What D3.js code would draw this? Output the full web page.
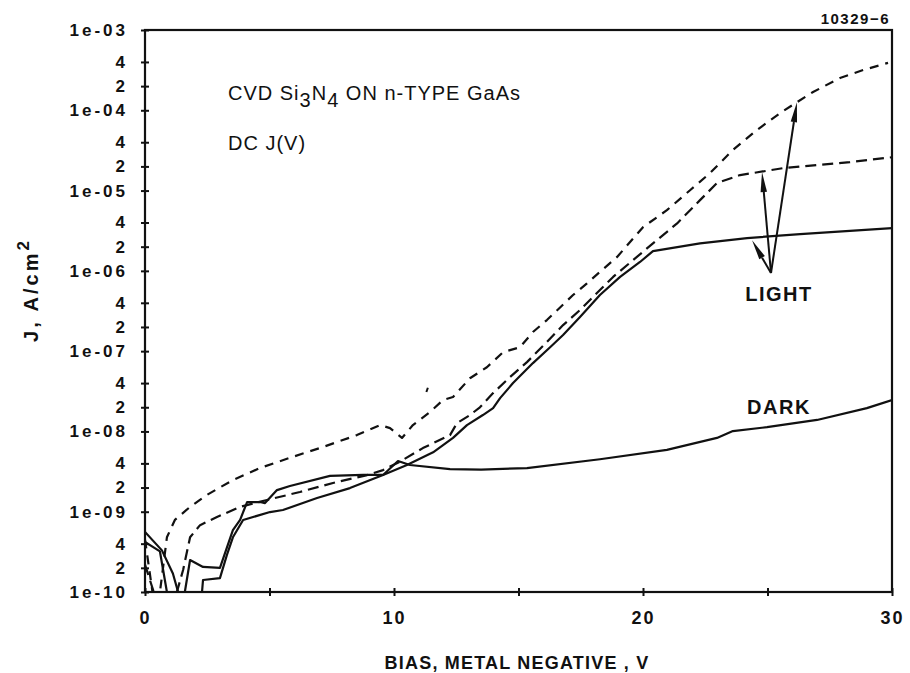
<!DOCTYPE html>
<html>
<head>
<meta charset="utf-8">
<script src="https://cdn.jsdelivr.net/npm/d3@7/dist/d3.min.js"></script>
<style>
  html, body { margin: 0; padding: 0; background: #fff; }
  svg { display: block; }
  text { font-family: "Liberation Sans", Arial, Helvetica, sans-serif; fill: #111; }
</style>
</head>
<body>
<svg id="chart" width="910" height="673"></svg>
<script>
// Bias (V, metal negative) and current density (A/cm^2) for each J(V) trace
const darkV = [0, 0.68, 1.12, 1.33, 1.6, 1.81, 2.33, 3.01, 3.53, 3.82, 4.10, 4.62, 4.82, 5.30, 5.82, 7.43, 8.76, 9.56, 10.16, 10.64, 12.25, 13.5, 15.34, 18.27, 20.96, 22.97, 23.61, 24.98, 26.99, 28.99, 30];
const darkJ = [5.6e-10, 3.3e-10, 1.7e-10, 1e-10, 1e-10, 2.5e-10, 2.05e-10, 2.0e-10, 5.9e-10, 7.9e-10, 1.32e-9, 1.32e-9, 1.28e-9, 1.86e-9, 2.09e-9, 2.79e-9, 2.87e-9, 2.87e-9, 4.28e-9, 3.82e-9, 3.4e-9, 3.35e-9, 3.5e-9, 4.5e-9, 5.9e-9, 8.3e-9, 1.01e-8, 1.13e-8, 1.39e-8, 1.95e-8, 2.46e-8];

const lightSolidV = [0, 0.6, 0.88, 2.29, 2.33, 3.01, 3.29, 3.53, 3.94, 5.02, 5.54, 6.91, 8.23, 9.56, 10.52, 11.57, 12.37, 12.93, 13.57, 13.98, 14.26, 14.78, 15.58, 16.27, 16.79, 17.47, 18.27, 19.08, 19.88, 20.40, 22.29, 24.18, 26.31, 30];
const lightSolidJ = [4.2e-10, 3.2e-10, 1e-10, 1e-10, 1.41e-10, 1.49e-10, 2.9e-10, 4.8e-10, 7.9e-10, 9.9e-10, 1.05e-9, 1.48e-9, 1.97e-9, 2.87e-9, 3.82e-9, 5.5e-9, 8.3e-9, 1.2e-8, 1.6e-8, 1.95e-8, 2.6e-8, 4.0e-8, 7.1e-8, 1.12e-7, 1.59e-7, 2.66e-7, 5.0e-7, 8.4e-7, 1.29e-6, 1.76e-6, 2.2e-6, 2.56e-6, 2.87e-6, 3.4e-6];

const lightHighV = [0, 0.3, 0.6, 0.88, 1.20, 1.81, 2.49, 3.53, 4.62, 5.82, 7.15, 8.51, 9.44, 9.84, 10.32, 10.76, 11.45, 11.97, 12.37, 13.05, 13.73, 14.38, 15.06, 15.58, 16.14, 16.67, 17.19, 17.75, 18.27, 18.96, 20.0, 20.96, 21.89, 22.69, 23.61, 24.58, 25.50, 26.18, 26.83, 27.91, 28.84, 29.84];
const lightHighJ = [4.5e-10, 1e-10, 1e-10, 4.8e-10, 7.9e-10, 1.15e-9, 1.62e-9, 2.48e-9, 3.5e-9, 4.7e-9, 6.4e-9, 9.0e-9, 1.2e-8, 1.1e-8, 8.3e-9, 1.2e-8, 1.75e-8, 2.46e-8, 2.68e-8, 4.6e-8, 6.3e-8, 9.7e-8, 1.12e-7, 1.73e-7, 2.44e-7, 3.5e-7, 5.0e-7, 7.0e-7, 9.7e-7, 1.49e-6, 3.5e-6, 5.7e-6, 1.01e-5, 1.65e-5, 3.2e-5, 5.7e-5, 9.2e-5, 1.26e-4, 1.69e-4, 2.52e-4, 3.17e-4, 3.9e-4];

const lightMidV = [0, 0.35, 1.28, 1.53, 1.81, 2.21, 2.89, 3.82, 4.90, 6.22, 7.55, 8.92, 9.56, 10.24, 11.16, 12.25, 12.53, 13.05, 13.45, 13.98, 14.66, 15.34, 16.14, 16.79, 17.47, 18.15, 18.80, 19.60, 20.40, 21.37, 22.29, 22.97, 23.90, 25.62, 26.99, 28.31, 30];
const lightMidJ = [2.2e-10, 1e-10, 1e-10, 1.88e-10, 4.8e-10, 6.8e-10, 8.6e-10, 1.15e-9, 1.40e-9, 1.76e-9, 2.28e-9, 2.86e-9, 3.3e-9, 4.2e-9, 6.2e-9, 9.0e-9, 1.27e-8, 1.6e-8, 2.0e-8, 3.0e-8, 4.75e-8, 7.3e-8, 1.30e-7, 2.11e-7, 3.25e-7, 5.3e-7, 8.4e-7, 1.36e-6, 2.2e-6, 3.9e-6, 7.6e-6, 1.24e-5, 1.56e-5, 1.9e-5, 2.08e-5, 2.26e-5, 2.6e-5];

// stray point left beside the upper trace
const strayV = [11.3, 11.36];
const strayJ = [3.1e-8, 3.5e-8];

// axis ticks
const xTicks = [0, 5, 10, 15, 20, 25, 30];
const xTickLabels = ["0", "", "10", "", "20", "", "30"];
const yTicks = [1e-10, 2e-10, 4e-10, 1e-9, 2e-9, 4e-9, 1e-8, 2e-8, 4e-8, 1e-7, 2e-7, 4e-7,
                1e-6, 2e-6, 4e-6, 1e-5, 2e-5, 4e-5, 1e-4, 2e-4, 4e-4, 1e-3];
const yTickLabels = ["1e-10", "2", "4", "1e-09", "2", "4", "1e-08", "2", "4", "1e-07", "2", "4",
                     "1e-06", "2", "4", "1e-05", "2", "4", "1e-04", "2", "4", "1e-03"];

// "LIGHT" pointer: shared origin, then tips on the three illuminated traces
const lightArrowFrom = [25.14, 9.4e-7];
const lightArrowTips = [[26.18, 1.26e-4], [24.78, 1.7e-5], [24.38, 2.4e-6]];

const svg = d3.select("#chart");
const x = d3.scaleLinear().domain([0, 30]).range([145, 892]);
const y = d3.scaleLog().domain([1e-10, 1e-3]).range([592, 30]);

svg.append("defs").append("clipPath").attr("id", "plot")
  .append("rect")
  .attr("x", x(0)).attr("y", y(1e-3))
  .attr("width", x(30) - x(0)).attr("height", y(1e-10) - y(1e-3));

const line = d3.line().x(d => x(d[0])).y(d => y(d[1]));
const zip = (a, b) => a.map((v, i) => [v, b[i]]);

const curves = svg.append("g").attr("clip-path", "url(#plot)")
  .attr("fill", "none").attr("stroke", "#111").attr("stroke-linejoin", "round");

curves.append("path").attr("d", line(zip(darkV, darkJ))).attr("stroke-width", 2.2);
curves.append("path").attr("d", line(zip(lightSolidV, lightSolidJ))).attr("stroke-width", 2.2);
curves.append("path").attr("d", line(zip(lightHighV, lightHighJ)))
  .attr("stroke-width", 2.2).attr("stroke-dasharray", "9,7");
curves.append("path").attr("d", line(zip(lightMidV, lightMidJ)))
  .attr("stroke-width", 2.2).attr("stroke-dasharray", "11,6");
curves.append("path").attr("d", line(zip(strayV, strayJ))).attr("stroke-width", 2);

// frame
svg.append("rect")
  .attr("x", x(0)).attr("y", y(1e-3))
  .attr("width", x(30) - x(0)).attr("height", y(1e-10) - y(1e-3))
  .attr("fill", "none").attr("stroke", "#111").attr("stroke-width", 2.2);

// y axis
const yAxis = svg.append("g").attr("transform", `translate(${x(0)},0)`)
  .call(d3.axisLeft(y).tickValues(yTicks)
    .tickFormat((d, i) => yTickLabels[i]).tickSize(5).tickPadding(12));
yAxis.select(".domain").remove();
yAxis.selectAll(".tick line").attr("x1", -4).attr("x2", 4).attr("stroke", "#111").attr("stroke-width", 2);
yAxis.selectAll(".tick text")
  .attr("font-size", 17).attr("font-weight", "bold").attr("letter-spacing", 3)
  .attr("font-family", "'Liberation Sans', Arial, sans-serif").attr("fill", "#111");

// x axis
const xAxis = svg.append("g").attr("transform", `translate(0,${y(1e-10)})`)
  .call(d3.axisBottom(x).tickValues(xTicks)
    .tickFormat((d, i) => xTickLabels[i]).tickSize(5).tickPadding(14));
xAxis.select(".domain").remove();
xAxis.selectAll(".tick line").attr("y1", -4).attr("y2", 4).attr("stroke", "#111").attr("stroke-width", 2);
xAxis.selectAll(".tick text")
  .attr("font-size", 18).attr("font-weight", "bold").attr("letter-spacing", 2)
  .attr("font-family", "'Liberation Sans', Arial, sans-serif").attr("fill", "#111");

// axis titles
svg.append("text")
  .attr("x", 517).attr("y", 669)
  .attr("text-anchor", "middle").attr("font-size", 18).attr("font-weight", "bold")
  .attr("letter-spacing", 1.2)
  .text("BIAS, METAL NEGATIVE , V");

const yTitle = svg.append("text")
  .attr("transform", "translate(38,290) rotate(-90)")
  .attr("text-anchor", "middle").attr("font-size", 20).attr("font-weight", "bold")
  .attr("letter-spacing", 3);
yTitle.append("tspan").text("J, A/cm");
yTitle.append("tspan").attr("dy", -9).attr("font-size", 17).text("2");

// figure number
svg.append("text")
  .attr("x", 890).attr("y", 24).attr("text-anchor", "end")
  .attr("font-size", 15).attr("font-weight", "bold").attr("letter-spacing", 1.5)
  .text("10329\u22126");

// in-plot notes
const note = svg.append("text").attr("x", 228).attr("y", 100)
  .attr("font-size", 20).attr("letter-spacing", 1);
note.append("tspan").text("CVD Si");
note.append("tspan").attr("dy", 7).text("3");
note.append("tspan").attr("dy", -7).text("N");
note.append("tspan").attr("dy", 7).text("4");
note.append("tspan").attr("dy", -7).text(" ON n-TYPE GaAs");

svg.append("text").attr("x", 228).attr("y", 150)
  .attr("font-size", 20).attr("letter-spacing", 1).text("DC J(V)");

svg.append("text").attr("x", 779).attr("y", 301).attr("text-anchor", "middle")
  .attr("font-size", 20).attr("letter-spacing", 1.5).attr("font-weight", "bold").text("LIGHT");
svg.append("text").attr("x", 779).attr("y", 414).attr("text-anchor", "middle")
  .attr("font-size", 20).attr("letter-spacing", 1.5).attr("font-weight", "bold").text("DARK");

// pointer arrows from the LIGHT label
const arrows = svg.append("g");
const ox = x(lightArrowFrom[0]), oy = y(lightArrowFrom[1]);
lightArrowTips.forEach(t => {
  const tx = x(t[0]), ty = y(t[1]);
  const dx = tx - ox, dy = ty - oy, len = Math.hypot(dx, dy);
  const ux = dx / len, uy = dy / len;
  const headLen = 20, headW = 3.2;
  const bx = tx - ux * headLen, by = ty - uy * headLen;
  arrows.append("line")
    .attr("x1", ox).attr("y1", oy).attr("x2", bx).attr("y2", by)
    .attr("stroke", "#111").attr("stroke-width", 2);
  arrows.append("path")
    .attr("d", `M${tx},${ty}L${bx - uy * headW},${by + ux * headW}L${bx + uy * headW},${by - ux * headW}Z`)
    .attr("fill", "#111");
});
</script>
</body>
</html>
